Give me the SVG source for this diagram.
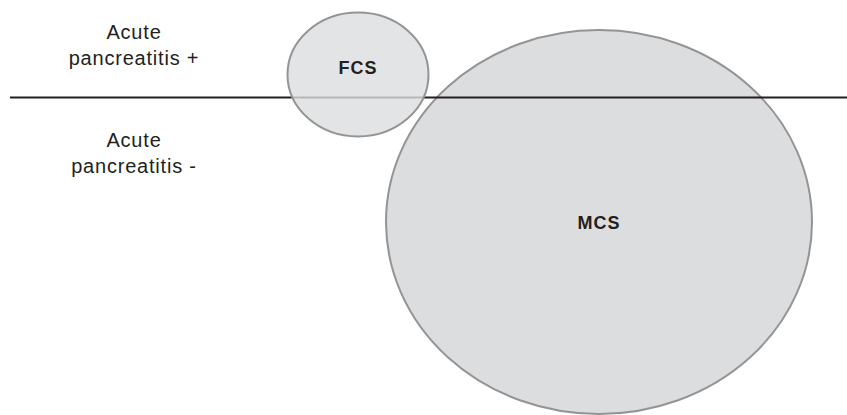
<svg xmlns="http://www.w3.org/2000/svg" width="847" height="415" viewBox="0 0 847 415">
<style>
.set{fill:#dcdddf;stroke:#949494;stroke-width:2}
.lbl{font-family:"Liberation Sans",Arial,sans-serif;font-size:20px;fill:#231f20;text-anchor:middle;letter-spacing:0.8px}
.b{font-weight:bold;font-size:18px;letter-spacing:1px}
</style>
<rect width="847" height="415" fill="#fff"/>
<g id="MCS">
<ellipse class="set" cx="599" cy="222" rx="213" ry="192"/>
<text class="lbl b" x="599" y="229">MCS</text>
</g>
<g id="connectors">
<line x1="10" y1="97.5" x2="847" y2="97.5" stroke="#231f20" stroke-width="2"/>
</g>
<g id="FCS">
<ellipse class="set" cx="358" cy="74.5" rx="70.5" ry="62" fill-opacity="0.8"/>
<text class="lbl b" x="358" y="74">FCS</text>
</g>
<g id="labels">
<text class="lbl" x="134" y="39">Acute</text>
<text class="lbl" x="134" y="65">pancreatitis +</text>
<text class="lbl" x="134" y="147">Acute</text>
<text class="lbl" x="134" y="173">pancreatitis -</text>
</g>
</svg>
